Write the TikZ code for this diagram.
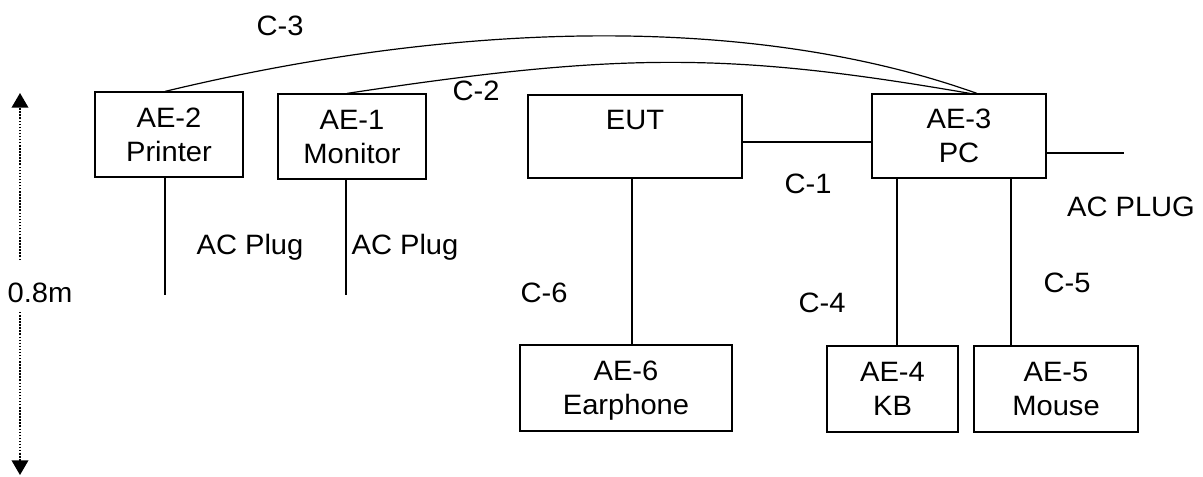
\documentclass[tikz,border=0pt]{standalone}
\usepackage{fontspec}
\setmainfont{Liberation Sans}[FakeStretch=1.04]
\usetikzlibrary{calc,arrows.meta}
\begin{document}
\begin{tikzpicture}[x=0.75pt,y=-0.75pt,
  txt/.style={font=\fontsize{21}{25.5}\selectfont, inner sep=0pt},
  box/.style={draw, line width=0.9pt, rectangle, inner sep=0pt, align=center,
    text depth=0pt, font=\fontsize{21}{25.5}\selectfont},
  wire/.style={line width=0.9pt},
  lbl/.style={txt, anchor=base},
  dots/.style={line width=1.1pt, dash pattern=on 1.1pt off 1.2pt,
    -{Triangle[width=12.5pt,length=11pt]}}]
\useasboundingbox (0,0) rectangle (1203,476);
% boxes
\node[box, minimum width=111pt, minimum height=63.75pt] (printer) at (169,134.5) {AE-2\\Printer};
\node[box, minimum width=111pt, minimum height=63.75pt] (monitor) at (352,136.5) {AE-1\\Monitor};
\node[box, minimum width=160.5pt, minimum height=62.25pt] (eut) at (635,136.5) {EUT\\\mbox{}};
\node[box, minimum width=130.5pt, minimum height=63pt] (pc) at (959,136) {AE-3\\PC};
\node[box, minimum width=159pt, minimum height=64.5pt] (ear) at (626,388) {AE-6\\Earphone};
\node[box, minimum width=98.25pt, minimum height=64.5pt] (kb) at (892.5,389) {AE-4\\KB};
\node[box, minimum width=123pt, minimum height=64.5pt] (mouse) at (1056,389) {AE-5\\Mouse};
% free ends
\coordinate (prplug) at ($(printer.south)+(-4,117)$);
\coordinate (moplug) at ($(monitor.south)+(-6,115)$);
\coordinate (pcplug) at (1124,153);
% connectors
\draw[wire] ($(eut.east)+(0,5.5)$) -- ($(pc.west)+(0,6)$);
\draw[wire] ($(pc.east)+(0,17)$) -- (pcplug);
\coordinate (kbtop) at ($(kb.north)+(4.5,0)$);
\draw[wire] (kbtop |- pc.south) -- (kbtop);
\coordinate (mstop) at ($(mouse.north)+(-45,0)$);
\draw[wire] (mstop |- pc.south) -- (mstop);
\coordinate (eartop) at ($(ear.north)+(6,0)$);
\draw[wire] (eartop |- eut.south) -- (eartop);
\draw[wire] ($(printer.south)+(-4,0)$) -- (prplug);
\draw[wire] ($(monitor.south)+(-6,0)$) -- (moplug);
\draw[wire] ($(printer.north)+(-4,0)$) .. controls (470,18) and (760,16) .. ($(pc.north)+(18,0)$);
\draw[wire] ($(monitor.north)+(-5,0)$) .. controls (620,52) and (730,52) .. ($(pc.north)+(11,0)$);
% labels
\node[lbl] (c3) at (280,35) {C-3};
\node[lbl] (c2) at (476,100) {C-2};
\node[lbl] (c1) at (808,193) {C-1};
\node[lbl] (acpc) at (1131,216) {AC PLUG};
\node[lbl] (acpr) at (250,254) {AC Plug};
\node[lbl] (acmo) at (405,254) {AC Plug};
\node[lbl] (c6) at (544,302) {C-6};
\node[lbl] (c4) at (822,312) {C-4};
\node[lbl] (c5) at (1067,292) {C-5};
\node[lbl] (h) at (40,302) {0.8m};
% height arrow
\coordinate (htop) at (20,93);
\coordinate (hbot) at (20,475);
\draw[dots] (20,260) -- (htop);
\draw[dots] (20,312) -- (hbot);
\end{tikzpicture}
\end{document}
